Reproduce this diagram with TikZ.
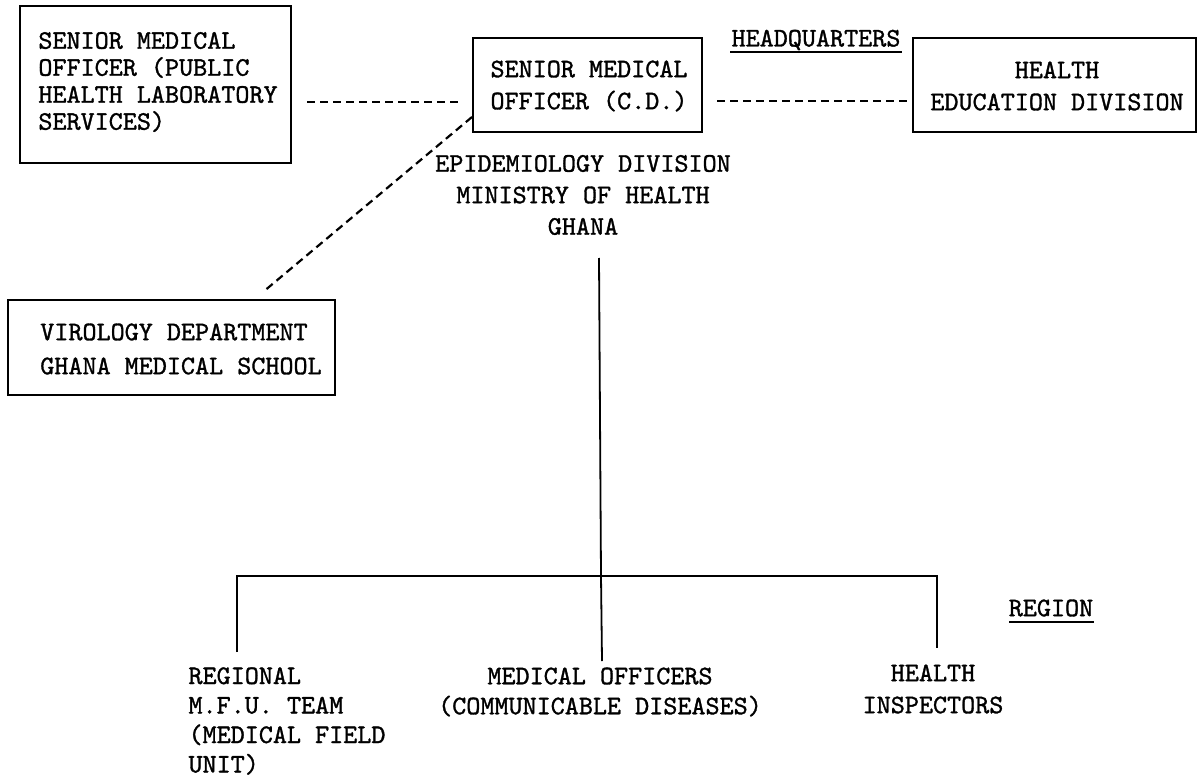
\documentclass[tikz,border=0pt]{standalone}
\usepackage{fontspec}
\newfontfamily\tw[Extension=.otf, FakeBold=1.2]{lmmono10-regular}
\newcommand\twsize[1]{\tw\fontsize{26.8}{#1}\selectfont}
\begin{document}
\begin{tikzpicture}[x=1pt,y=-1pt,
  box/.style={draw, line width=1.8pt, inner sep=0pt},
  txt/.style={font=\twsize{31}, inner sep=0pt, align=center},
  txtl/.style={txt, align=left},
  dash line/.style={line width=2.2pt, dash pattern=on 8pt off 5pt},
  solid line/.style={line width=1.8pt}
]
\useasboundingbox (0,0) rectangle (1198,778);
% boxes
\node[box, minimum width=271pt, minimum height=157pt] (b1) at (155.5,84.5) {};
\node[box, minimum width=229pt, minimum height=94pt] (b2) at (587.5,85) {};
\node[box, minimum width=283pt, minimum height=94pt] (b3) at (1054.5,85) {};
\node[box, minimum width=327pt, minimum height=95pt] (b4) at (171.5,347.5) {};
% box texts
\node[txtl, font=\twsize{27}] (t1) at (158,82) {SENIOR MEDICAL\\OFFICER (PUBLIC\\HEALTH LABORATORY\\SERVICES)};
\node[txt, font=\twsize{32}] (t2) at (589,86) {SENIOR MEDICAL\\OFFICER (C.D.)};
\node[txt, font=\twsize{32}] (t3) at (1057,86) {HEALTH\\EDUCATION DIVISION};
\node[txtl, font=\twsize{34}] (t4) at (181,349) {VIROLOGY DEPARTMENT\\GHANA MEDICAL SCHOOL};
% free texts
\node[txt, font=\twsize{31.5}] (epi) at (583,195) {EPIDEMIOLOGY DIVISION\\MINISTRY OF HEALTH\\GHANA};
\node[txt] (hq) at (816,40) {HEADQUARTERS};
\node[txt] (reg) at (1051,608) {REGION};
\node[txtl, font=\twsize{29.5}] (mfu) at (287,721) {REGIONAL\\M.F.U. TEAM\\(MEDICAL FIELD\\UNIT)};
\node[txt, font=\twsize{30}] (mo) at (600,692) {MEDICAL OFFICERS\\(COMMUNICABLE DISEASES)};
\node[txt, font=\twsize{32}] (hi) at (933,689) {HEALTH\\INSPECTORS};
% underlines
\coordinate (hqa) at (730,52); \coordinate (hqb) at (902,52);
\draw[line width=1.5pt] (hqa) -- (hqb);
\coordinate (rga) at (1009,622); \coordinate (rgb) at (1094,622);
\draw[line width=1.5pt] (rga) -- (rgb);
% dashed connectors
\coordinate (d1a) at (307,102); \coordinate (d1b) at (460,102);
\draw[dash line] (d1a) -- (d1b);
\coordinate (d2a) at (717,101);
\draw[dash line] (d2a) -- (d2a -| b3.west);
\coordinate (d3a) at (472,117); \coordinate (d3b) at (263,292);
\draw[dash line] (d3a) -- (d3b);
% tree
\coordinate (top) at (599,258);
\coordinate (hub) at (601,576);
\coordinate (midend) at (602,661);
\coordinate (lft) at (237,576);
\coordinate (lftend) at (237,652);
\coordinate (rgt) at (937,576);
\coordinate (rgtend) at (937,648);
\draw[solid line] (top) -- (hub) -- (midend);
\draw[solid line] (lftend) -- (lft) -- (rgt) -- (rgtend);
\end{tikzpicture}
\end{document}
